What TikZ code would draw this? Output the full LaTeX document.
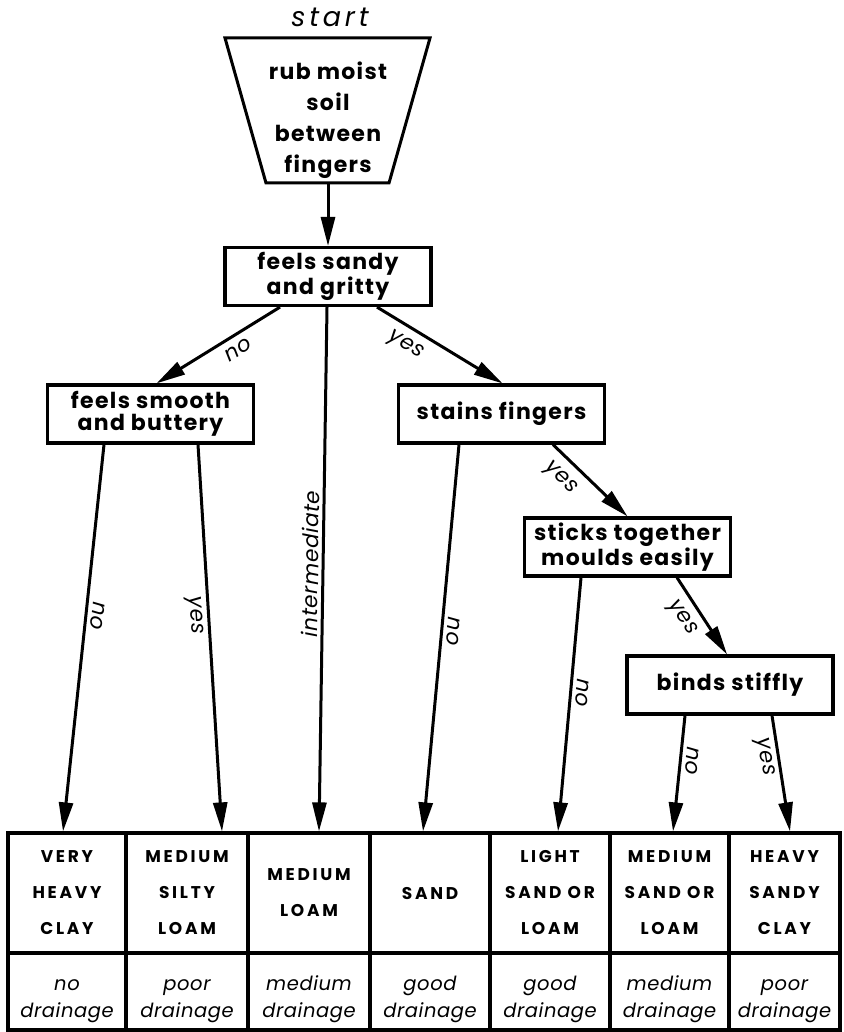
\documentclass[tikz,border=0pt]{standalone}
\usepackage{fontspec}
\setmainfont{Poppins}
\newfontfamily\boxfont{Poppins}[LetterSpace=6]
\newfontfamily\capsfont{Poppins}[LetterSpace=16]
\newfontfamily\wideitfont{Poppins}[LetterSpace=14]
\newfontfamily\drainfont{Poppins}[LetterSpace=3]
\usepackage{tikz}
\usetikzlibrary{positioning, arrows.meta, shapes.geometric}

\begin{document}
\begin{tikzpicture}[x=1pt, y=-1pt,
  boxnode/.style={draw, line width=3.2pt, minimum width=206pt, minimum height=58pt, align=center, inner sep=1pt, font=\boxfont\bfseries\fontsize{22}{22}\selectfont},
  cellnode/.style={draw, line width=3.2pt, minimum height=120pt, align=center, inner sep=0pt, font=\capsfont\bfseries\fontsize{17}{36}\selectfont},
  drainnode/.style={draw, line width=3.2pt, minimum height=77pt, align=center, inner sep=0pt, font=\drainfont\itshape\fontsize{19.5}{27}\selectfont},
  flow/.style={line width=3pt, -{Triangle[length=29pt,width=14pt]}},
  lbl/.style={font=\drainfont\itshape\fontsize{21.5}{22}\selectfont, inner sep=2pt}]
\useasboundingbox (0,0) rectangle (843,1032);

% start shape
\node[font=\wideitfont\itshape\fontsize{27}{28}\selectfont] at (330,17) (st) {start};
\draw[line width=3pt, line join=miter] (225,38) -- (430,38) -- (389,183) -- (266,183) -- cycle;
\node[align=center, font=\boxfont\bfseries\fontsize{22}{31}\selectfont] at (328,120) (q0) {rub moist\\soil\\between\\fingers};
\coordinate (q0b) at (328,183);

% questions
\node[boxnode] at (328,276.5) (q1) {feels sandy\\and gritty};
\node[boxnode] at (150.5,414) (q2) {feels smooth\\and buttery};
\node[boxnode] at (501.5,414) (q3) {stains fingers};
\node[boxnode] at (627.5,547) (q4) {sticks together\\moulds easily};
\node[boxnode] at (730,685) (q5) {binds stiffly};

% soil types
\node[cellnode, minimum width=118pt] at (67,893) (t1) {VERY\\HEAVY\\CLAY};
\node[cellnode, minimum width=122pt] at (187,893) (t2) {MEDIUM\\SILTY\\LOAM};
\node[cellnode, minimum width=122pt] at (309,893) (t3) {MEDIUM\\LOAM};
\node[cellnode, minimum width=120pt] at (430,893) (t4) {SAND};
\node[cellnode, minimum width=120pt] at (550,893) (t5) {LIGHT\\SAND OR\\LOAM};
\node[cellnode, minimum width=119pt] at (669.5,893) (t6) {MEDIUM\\SAND OR\\LOAM};
\node[cellnode, minimum width=111pt] at (784.5,893) (t7) {HEAVY\\SANDY\\CLAY};

% drainage (the rule pushes the two lines down a little)
\node[drainnode, minimum width=118pt] at (67,991.5) (d1) {\rule{0pt}{31pt}no\\drainage};
\node[drainnode, minimum width=122pt] at (187,991.5) (d2) {\rule{0pt}{31pt}poor\\drainage};
\node[drainnode, minimum width=122pt] at (309,991.5) (d3) {\rule{0pt}{31pt}medium\\drainage};
\node[drainnode, minimum width=120pt] at (430,991.5) (d4) {\rule{0pt}{31pt}good\\drainage};
\node[drainnode, minimum width=120pt] at (550,991.5) (d5) {\rule{0pt}{31pt}good\\drainage};
\node[drainnode, minimum width=119pt] at (669.5,991.5) (d6) {\rule{0pt}{31pt}medium\\drainage};
\node[drainnode, minimum width=111pt] at (784.5,991.5) (d7) {\rule{0pt}{31pt}poor\\drainage};

% arrows
\draw[flow] (q0b) -- (q1.north);
\draw[flow] ([xshift=-48pt]q1.south) -- ([xshift=6pt]q2.north) node[lbl, sloped, pos=0.4, below=5pt] {no};
\draw[flow] ([xshift=49pt]q1.south) -- ([xshift=1pt]q3.north) node[lbl, sloped, pos=0.3, below=6pt] {yes};
\draw[flow] ([xshift=-1pt]q1.south) -- ([xshift=10pt]t3.north) node[lbl, sloped, pos=0.49, above=1pt] {intermediate};
\draw[flow] ([xshift=-46.5pt]q2.south) -- ([xshift=-4pt]t1.north) node[lbl, sloped, allow upside down, pos=0.44, above=2pt] {no};
\draw[flow] ([xshift=47.5pt]q2.south) -- ([xshift=35pt]t2.north) node[lbl, sloped, allow upside down, pos=0.44, below=2pt] {yes};
\draw[flow] ([xshift=-42.5pt]q3.south) -- ([xshift=-7pt]t4.north) node[lbl, sloped, allow upside down, pos=0.48, above=2pt] {no};
\draw[flow] ([xshift=51.5pt]q3.south) -- (q4.north) node[lbl, sloped, pos=0.28, below=7pt] {yes};
\draw[flow] ([xshift=-46.5pt]q4.south) -- ([xshift=8pt]t5.north) node[lbl, sloped, allow upside down, pos=0.45, above=2pt] {no};
\draw[flow] ([xshift=49.5pt]q4.south) -- ([xshift=-3pt]q5.north) node[lbl, sloped, pos=0.4, below=6pt] {yes};
\draw[flow] ([xshift=-45pt]q5.south) -- ([xshift=3.5pt]t6.north) node[lbl, sloped, allow upside down, pos=0.38, above=2pt] {no};
\draw[flow] ([xshift=42pt]q5.south) -- ([xshift=5.5pt]t7.north) node[lbl, sloped, allow upside down, pos=0.34, below=2pt] {yes};

\end{tikzpicture}
\end{document}
